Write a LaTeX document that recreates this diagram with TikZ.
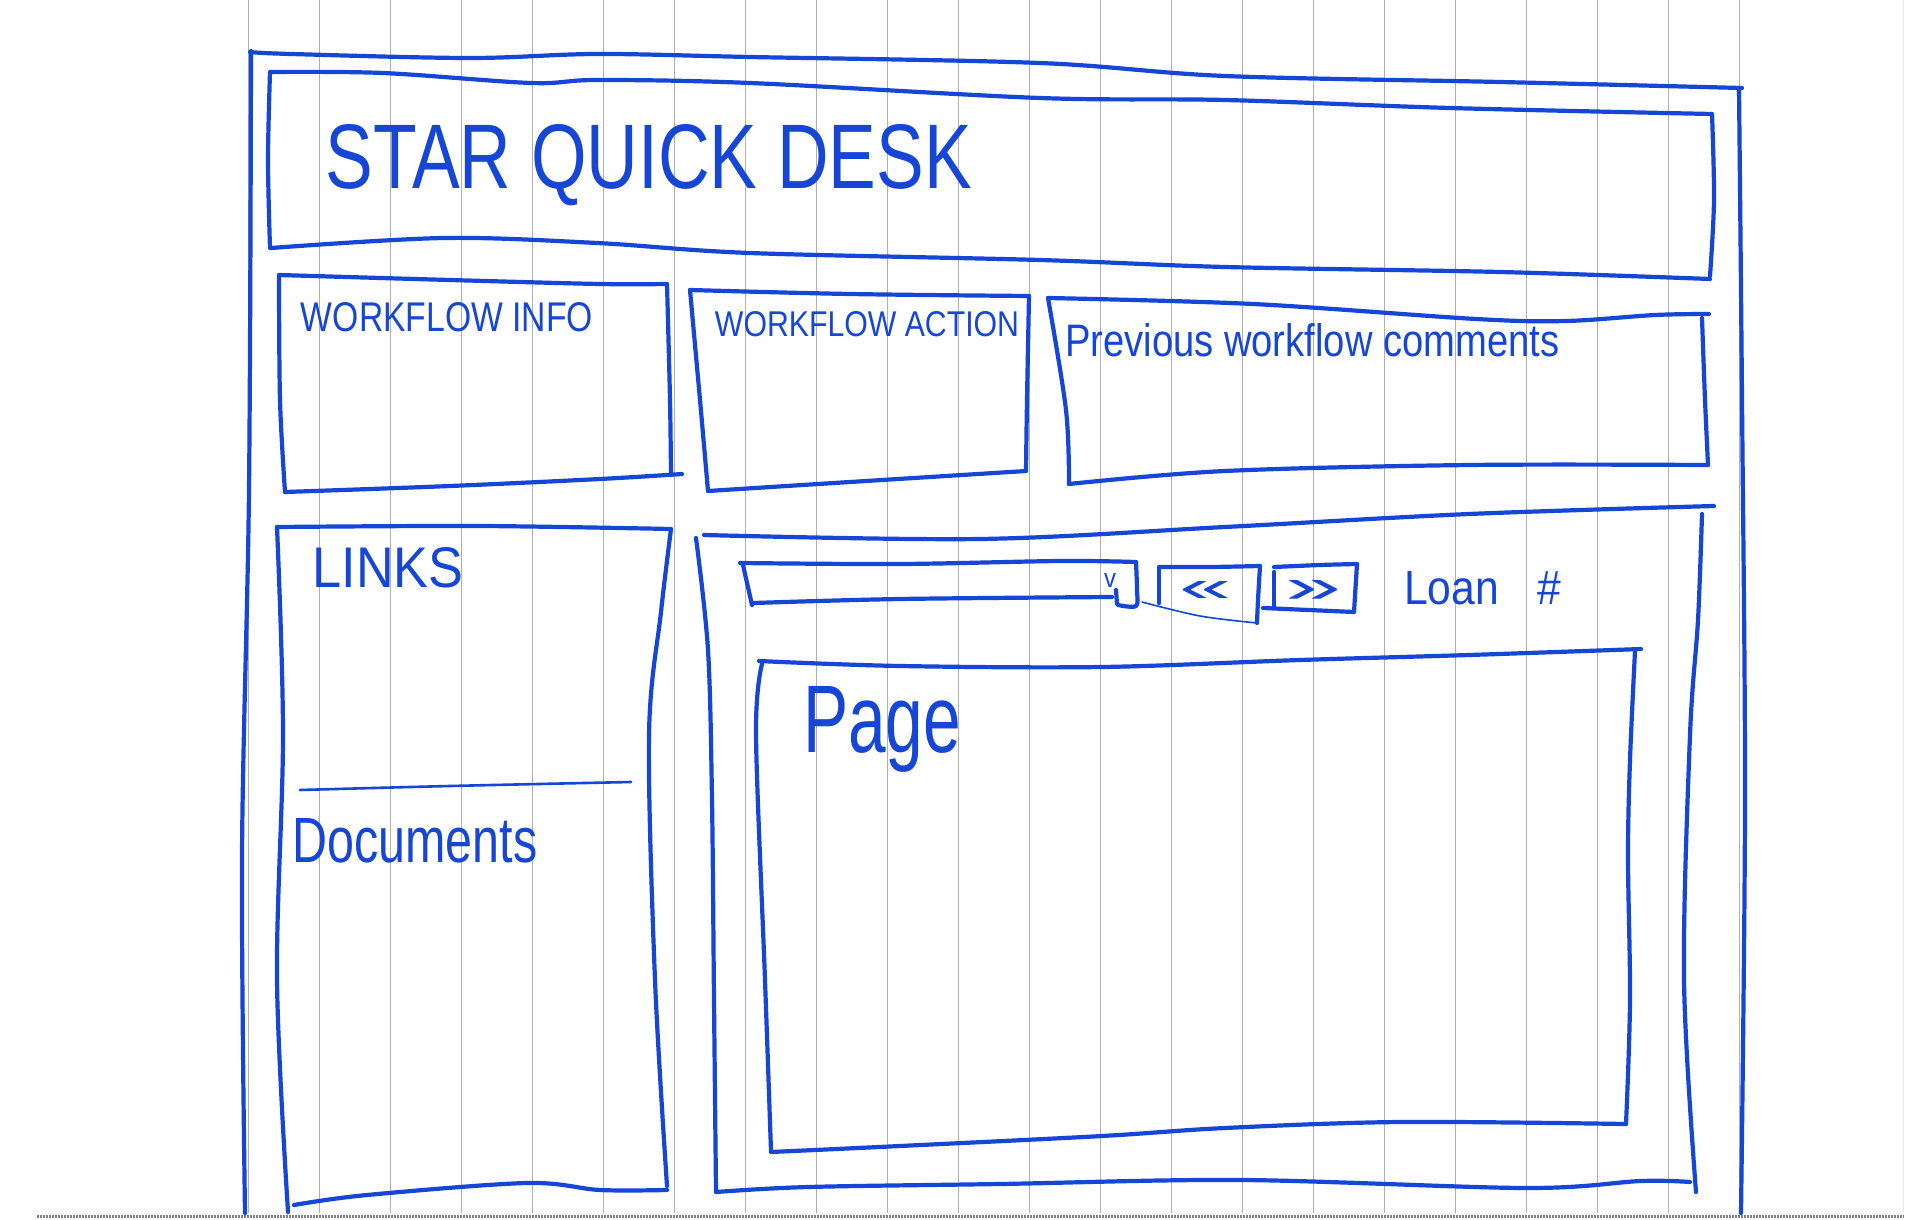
\documentclass[tikz,border=0pt]{standalone}
\usepackage{fontspec}
\setmainfont{Liberation Sans}
\usepackage{graphicx}
\definecolor{ink}{RGB}{22,70,214}
\definecolor{rulegrey}{RGB}{176,176,176}
\begin{document}
\begin{tikzpicture}[x=1pt,y=-1pt,
  pen/.style={draw=ink,line width=4.2pt,line cap=round,line join=round},
  thinpen/.style={draw=ink,line width=1.6pt,line cap=round},
  hand/.style={text=ink,inner sep=0pt},
  wavy/.style={smooth,tension=0.55}]
\useasboundingbox (0,0) rectangle (1920,1220);
\fill[white] (0,0) rectangle (1920,1220);
% ruled paper
\foreach \i in {0,...,21}
  \draw[rulegrey,line width=1.6pt] ({248.6+71*\i},0) -- ({248.6+71*\i},1213);
\draw[black!50,line width=3pt,dash pattern=on 2pt off 1pt] (37,1216) -- (1904,1216);
\draw[black!8,line width=1pt] (1903,0) -- (1903,1213);

% outer frame
\draw[pen] plot[wavy] coordinates {(250,52) (291,54) (470,58) (597,54) (750,57) (1040,63) (1225,76) (1500,82) (1742,88)};
\draw[pen] plot[wavy] coordinates {(1739,88) (1742,400) (1745,800) (1741,1213)};
\draw[pen] plot[wavy] coordinates {(251,51) (249,490) (242,857) (245,1213)};

% title box
\draw[pen] plot[wavy] coordinates {(271,72) (383,73) (531,83) (597,80) (750,83) (1040,98) (1225,100) (1450,108) (1712,114)};
\draw[pen] plot[wavy] coordinates {(1712,114) (1714,200) (1710,276)};
\draw[pen] plot[wavy] coordinates {(271,248) (444,238) (597,243) (750,253) (1040,260) (1225,267) (1500,272) (1710,279)};
\draw[pen] plot[wavy] coordinates {(270,72) (268,160) (270,248)};
\node[hand] (title) at (649,165) {\resizebox{646pt}{64pt}{STAR QUICK DESK}};

% workflow info
\draw[pen] plot[wavy] coordinates {(279,275) (450,280) (600,284) (667,284)};
\draw[pen] plot[wavy] coordinates {(667,284) (670,400) (671,475)};
\draw[pen] plot[wavy] coordinates {(285,492) (450,486) (600,479) (682,474)};
\draw[pen] plot[wavy] coordinates {(279,275) (280,400) (285,492)};
\node[hand] (wfinfo) at (447,317) {\resizebox{292pt}{29pt}{WORKFLOW INFO}};

% workflow action
\draw[pen] plot[wavy] coordinates {(690,290) (850,294) (1029,296)};
\draw[pen] plot[wavy] coordinates {(1029,296) (1027,400) (1026,471)};
\draw[pen] plot[wavy] coordinates {(708,491) (850,482) (1026,471)};
\draw[pen] plot[wavy] coordinates {(690,290) (700,400) (708,491)};
\node[hand] (wfaction) at (867,324) {\resizebox{304pt}{25pt}{WORKFLOW ACTION}};

% previous workflow comments
\draw[pen] plot[wavy] coordinates {(1048,298) (1253,304) (1476,319) (1566,321) (1655,315) (1709,314)};
\draw[pen] plot[wavy] coordinates {(1702,318) (1705,400) (1708,465)};
\draw[pen] plot[wavy] coordinates {(1069,484) (1225,471) (1469,465) (1708,465)};
\draw[pen] plot[wavy] coordinates {(1048,298) (1066,410) (1069,484)};
\node[hand,anchor=base west] (prevcom) at (1065,356) {\resizebox{494pt}{33pt}{Previous workflow comments}};

% links / documents
\draw[pen] plot[wavy] coordinates {(277,527) (480,526) (671,529)};
\draw[pen] plot[wavy] coordinates {(671,529) (661,612) (649,735) (655,980) (667,1186)};
\draw[pen] plot[wavy] coordinates {(294,1205) (367,1195) (527,1183) (600,1190) (667,1190)};
\draw[pen] plot[wavy] coordinates {(277,527) (283,735) (277,980) (288,1212)};
\draw[thinpen,line width=2.6pt] plot[wavy] coordinates {(300,790) (450,786) (631,782)};
\node[hand] (links) at (388,568) {\resizebox{151pt}{40pt}{LINKS}};
\node[hand,anchor=base west] (docs) at (292,862) {\resizebox{245pt}{44pt}{Documents}};

% main area
\draw[pen] plot[wavy] coordinates {(704,535) (980,539) (1225,527) (1469,514) (1714,506)};
\draw[pen] plot[wavy] coordinates {(1702,514) (1698,620) (1690,735) (1684,980) (1696,1192)};
\draw[pen] plot[wavy] coordinates {(716,1192) (808,1187) (1000,1184) (1242,1180) (1526,1188) (1641,1181) (1690,1182)};
\draw[pen] plot[wavy] coordinates {(696,538) (708,650) (712,800) (714,1000) (716,1192)};

% toolbar: dropdown
\draw[pen] plot[wavy] coordinates {(740,563) (900,564) (1060,561) (1136,562)};
\draw[pen] plot[wavy] coordinates {(1136,562) (1137,590) (1136,606) (1118,605)};
\draw[pen] plot[wavy] coordinates {(754,603) (900,599) (1112,597)};
\draw[pen] plot[wavy] coordinates {(743,565) (752,605)};
\draw[pen] (1116,590) -- (1117,604);
\node[hand] (drop) at (1110,580) {\resizebox{12pt}{14pt}{v}};
% << button
\draw[pen] plot[wavy] coordinates {(1159,567) (1210,567) (1260,566)};
\draw[pen] plot[wavy] coordinates {(1260,566) (1258,600) (1257,623)};
\draw[pen] (1159,568) -- (1159,603);
\draw[thinpen] plot[wavy] coordinates {(1142,602) (1200,616) (1257,623)};
\node[hand] (prev) at (1206,591) {\resizebox{52pt}{20pt}{<<}};
% >> button
\draw[pen] plot[wavy] coordinates {(1274,567) (1320,565) (1357,564)};
\draw[pen] (1357,564) -- (1354,612);
\draw[pen] (1274,572) -- (1274,607);
\draw[pen] (1263,608) -- (1354,612);
\node[hand] (next) at (1314,591) {\resizebox{56pt}{22pt}{>>}};
\node[hand,anchor=base west] (loan) at (1404,604) {\resizebox{157pt}{33pt}{Loan\hspace{0.9em}\#}};

% page box
\draw[pen] plot[wavy] coordinates {(759,661) (900,666) (1102,667) (1300,660) (1469,655) (1641,649)};
\draw[pen] plot[wavy] coordinates {(1635,651) (1630,760) (1628,857) (1630,1000) (1626,1124)};
\draw[pen] plot[wavy] coordinates {(1626,1124) (1400,1122) (1225,1128) (1102,1136) (900,1146) (771,1152)};
\draw[pen] plot[wavy] coordinates {(762,664) (756,735) (765,980) (771,1151)};
\node[hand,anchor=base west] (page) at (803,752) {\resizebox{158pt}{66pt}{Page}};
\end{tikzpicture}
\end{document}
